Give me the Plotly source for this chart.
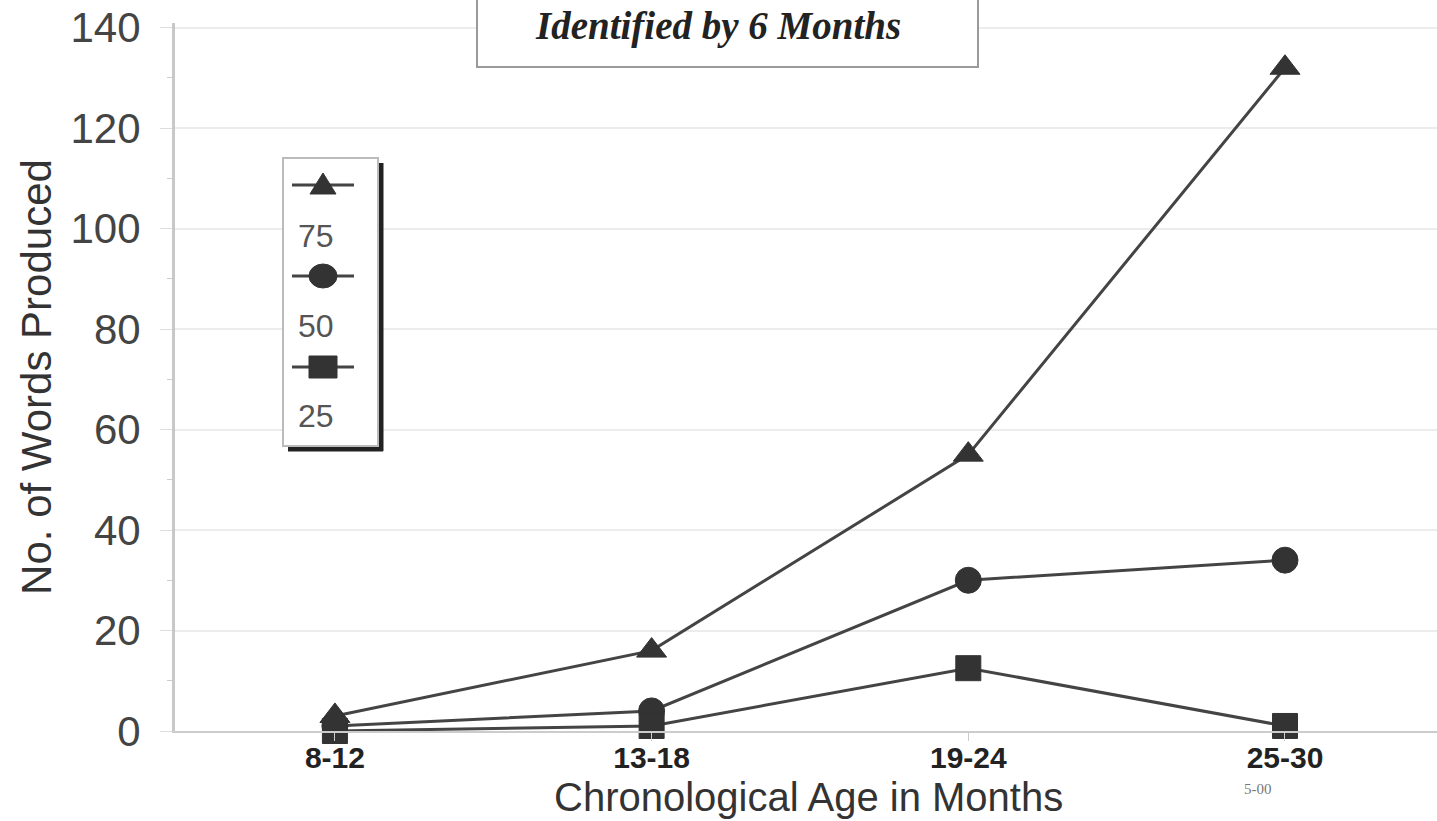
import plotly.graph_objects as go

# ---- data ----
age_groups = ["8-12", "13-18", "19-24", "25-30"]
series_names = ["75", "50", "25"]
words_75 = [3, 16, 55, 132]
words_50 = [1, 4, 30, 34]
words_25 = [0, 1, 12.5, 1]
series_values = [words_75, words_50, words_25]
series_symbols = ["triangle-up", "circle", "square"]
y_ticks = [0, 20, 40, 60, 80, 100, 120, 140]

title_text = "Identified by 6 Months"
x_title = "Chronological Age in Months"
y_title = "No. of Words Produced"
stamp_text = "5-00"

# ---- layout geometry (pixels) ----
W, H = 1437, 821
L, R, T, B = 175, 1437, 23, 731


def fx(px):
    return (px - L) / (R - L)


def fy(py):
    return (B - py) / (B - T)


fig = go.Figure()
for name, vals, sym in zip(series_names, series_values, series_symbols):
    fig.add_trace(go.Scatter(
        x=age_groups, y=vals, name=name, mode="lines+markers",
        line=dict(color="#444444", width=3),
        marker=dict(symbol=sym, size=26 if sym != "square" else 25,
                    color="#333333", line=dict(color="#333333", width=1)),
        cliponaxis=False, showlegend=False,
    ))

shapes = []
annotations = []

# title box (top partly cut off)
shapes.append(dict(type="rect", xref="paper", yref="paper",
                   x0=fx(477), x1=fx(978), y0=fy(67), y1=fy(-30),
                   line=dict(color="#9a9a9a", width=2), fillcolor="white", layer="above"))
annotations.append(dict(text="<b><i>" + title_text + "</i></b>", xref="paper", yref="paper",
                        x=fx(718), y=fy(26), xanchor="center", yanchor="middle", showarrow=False,
                        font=dict(family="Liberation Serif", size=39, color="#222222")))

# custom legend box with shadow
shapes.append(dict(type="line", xref="paper", yref="paper",
                   x0=fx(381), x1=fx(381), y0=fy(163), y1=fy(451),
                   line=dict(color="#222222", width=5), layer="above"))
shapes.append(dict(type="line", xref="paper", yref="paper",
                   x0=fx(288), x1=fx(383), y0=fy(449), y1=fy(449),
                   line=dict(color="#222222", width=5), layer="above"))
shapes.append(dict(type="rect", xref="paper", yref="paper",
                   x0=fx(283), x1=fx(378), y0=fy(446), y1=fy(158),
                   line=dict(color="#bbbbbb", width=2), fillcolor="white", layer="above"))

entry_y = [185, 276, 367]
label_y = [236, 326, 416]
for name, sym, ey, ly in zip(series_names, series_symbols, entry_y, label_y):
    shapes.append(dict(type="line", xref="paper", yref="paper",
                       x0=fx(292), x1=fx(354), y0=fy(ey), y1=fy(ey),
                       line=dict(color="#444444", width=3), layer="above"))
    cx = 323
    if sym == "triangle-up":
        path = "M %f %f L %f %f L %f %f Z" % (fx(cx), fy(ey - 12), fx(cx - 13), fy(ey + 9),
                                              fx(cx + 13), fy(ey + 9))
        shapes.append(dict(type="path", xref="paper", yref="paper", path=path,
                           fillcolor="#333333", line=dict(color="#333333", width=1), layer="above"))
    elif sym == "circle":
        shapes.append(dict(type="circle", xref="paper", yref="paper",
                           x0=fx(cx - 14), x1=fx(cx + 14), y0=fy(ey + 12), y1=fy(ey - 12),
                           fillcolor="#333333", line=dict(color="#333333", width=1), layer="above"))
    else:
        shapes.append(dict(type="rect", xref="paper", yref="paper",
                           x0=fx(cx - 14), x1=fx(cx + 14), y0=fy(ey + 11), y1=fy(ey - 11),
                           fillcolor="#333333", line=dict(color="#333333", width=1), layer="above"))
    annotations.append(dict(text=name, xref="paper", yref="paper", x=fx(296), y=fy(ly),
                            xanchor="left", yanchor="middle", showarrow=False,
                            font=dict(family="Liberation Sans", size=32, color="#555555")))

# x axis title (sits just below the tick-label band)
annotations.append(dict(text=x_title, xref="paper", yref="paper", x=fx(808), y=fy(797),
                        xanchor="center", yanchor="middle", showarrow=False,
                        font=dict(family="Liberation Sans", size=40, color="#333333")))
annotations.append(dict(text=stamp_text, xref="paper", yref="paper", x=fx(1258), y=fy(789),
                        xanchor="center", yanchor="middle", showarrow=False,
                        font=dict(family="Liberation Serif", size=15, color="#777777")))

fig.update_layout(
    width=W, height=H,
    margin=dict(l=L, r=W - R, t=T, b=H - B, pad=0),
    paper_bgcolor="white", plot_bgcolor="white",
    shapes=shapes, annotations=annotations,
    showlegend=False,
    xaxis=dict(
        type="category", range=[-0.505, 3.48],
        showgrid=False, zeroline=False,
        showline=True, linecolor="#cccccc", linewidth=2,
        ticks="outside", ticklen=8, tickcolor="#cccccc", tickwidth=1,
        tickfont=dict(family="Liberation Sans", size=30, color="#222222", weight="bold"),
        ticklabelstandoff=-9,
    ),
    yaxis=dict(
        range=[0, 140.9], tickvals=y_ticks,
        showgrid=True, gridcolor="#ececec", gridwidth=2,
        zeroline=False,
        showline=True, linecolor="#c8c8c8", linewidth=3,
        ticks="outside", ticklen=12, tickcolor="#dddddd", tickwidth=1,
        minor=dict(dtick=10, ticks="outside", ticklen=5, tickcolor="#cccccc"),
        tickfont=dict(family="Liberation Sans", size=42, color="#444444"),
        ticklabelstandoff=11,
        title=dict(text=y_title, standoff=6,
                   font=dict(family="Liberation Sans", size=42, color="#333333")),
    ),
)

fig.write_html("out.html",
               config={"displayModeBar": False},
               post_script="document.body.style.margin='0';document.body.style.overflow='hidden';")
